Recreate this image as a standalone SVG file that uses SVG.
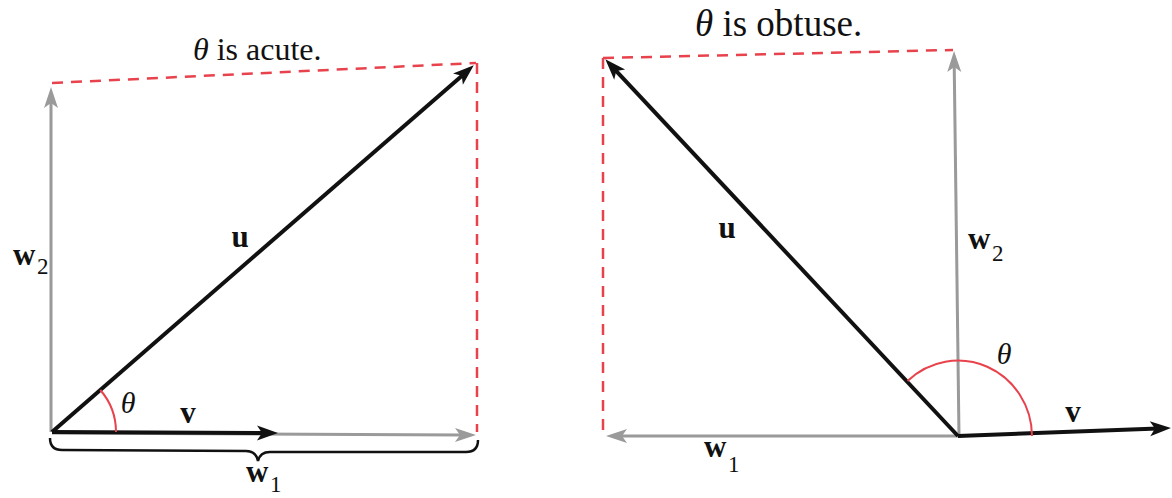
<svg xmlns="http://www.w3.org/2000/svg" width="1172" height="498" viewBox="0 0 1172 498">
<defs>
<marker id="ahBlack" viewBox="-10 -9 24 18" refX="0" refY="0" markerWidth="24" markerHeight="18" markerUnits="userSpaceOnUse" orient="auto">
<path d="M13,0 L-8,-7.5 L-3,0 L-8,7.5 Z" fill="#111"/>
</marker>
<marker id="ahGray" viewBox="-10 -9 24 18" refX="0" refY="0" markerWidth="24" markerHeight="18" markerUnits="userSpaceOnUse" orient="auto">
<path d="M13,0 L-8,-7 L-3,0 L-8,7 Z" fill="#9a9a9a"/>
</marker>
<style>
.blk{stroke:#111;stroke-width:4;fill:none;marker-end:url(#ahBlack)}
.gry{stroke:#9a9a9a;stroke-width:3;fill:none;marker-end:url(#ahGray)}
.red{stroke:#e8424c;stroke-width:2.5;fill:none;stroke-dasharray:11 8}
.arc{stroke:#e8424c;stroke-width:2;fill:none}
text{font-family:"Liberation Serif","Times New Roman",serif;fill:#111}
.lbl{font-weight:bold;font-size:31px}
.sub{font-size:23px}
.th{font-style:italic;font-size:30px}
</style>
</defs>
<rect width="1172" height="498" fill="#ffffff"/>

<g id="acute">
<g id="acute-guides">
<line class="red" x1="52" y1="83" x2="476" y2="63"/>
<line class="red" x1="477" y1="63" x2="477" y2="432"/>
</g>
<g id="acute-connectors">
<line class="gry" x1="52" y1="433" x2="463" y2="435"/>
<line class="gry" x1="51" y1="432" x2="51" y2="100"/>
<line class="blk" x1="52" y1="432" x2="464" y2="73.9"/>
<line class="blk" x1="52" y1="432" x2="265" y2="433"/>
<path class="arc" d="M116,432 A64,64 0 0 0 100.3,390"/>
<path d="M50,438 Q50,450 62,450 L246,451 Q256,451 258,461 Q260,452 270,452 L466,452 Q478,452 478,440" stroke="#111" stroke-width="2.5" fill="none"/>
</g>
<g id="acute-labels">
<text x="193" y="60" font-family="Liberation Serif, serif" font-size="32"><tspan font-style="italic">θ</tspan> is acute.</text>
<text class="lbl" x="240" y="247" text-anchor="middle">u</text>
<text class="lbl" x="188" y="423" text-anchor="middle">v</text>
<text class="th" x="128" y="413" text-anchor="middle">θ</text>
<text class="lbl" x="13" y="265">w</text>
<text class="sub" x="37" y="274">2</text>
<text class="lbl" x="246" y="482">w</text>
<text class="sub" x="270" y="492">1</text>
</g>
</g>

<g id="obtuse">
<g id="obtuse-guides">
<line class="red" x1="603" y1="58" x2="953" y2="50"/>
<line class="red" x1="603" y1="58" x2="603" y2="436"/>
</g>
<g id="obtuse-connectors">
<line class="gry" x1="958" y1="436" x2="619" y2="436"/>
<line class="gry" x1="959" y1="436" x2="954.2" y2="64"/>
<line class="blk" x1="958" y1="436" x2="614.2" y2="68.8"/>
<line class="blk" x1="958" y1="436" x2="1158" y2="428.5"/>
<path class="arc" d="M1032,436 A74,76 0 0 0 907.5,381"/>
</g>
<g id="obtuse-labels">
<text x="695" y="36" font-family="Liberation Serif, serif" font-size="37"><tspan font-style="italic">θ</tspan> is obtuse.</text>
<text class="lbl" x="727" y="238" text-anchor="middle">u</text>
<text class="lbl" x="1073" y="422" text-anchor="middle">v</text>
<text class="th" x="1004" y="364" text-anchor="middle">θ</text>
<text class="lbl" x="968" y="249">w</text>
<text class="sub" x="992" y="261">2</text>
<text class="lbl" x="704" y="457">w</text>
<text class="sub" x="728" y="472">1</text>
</g>
</g>
</svg>
